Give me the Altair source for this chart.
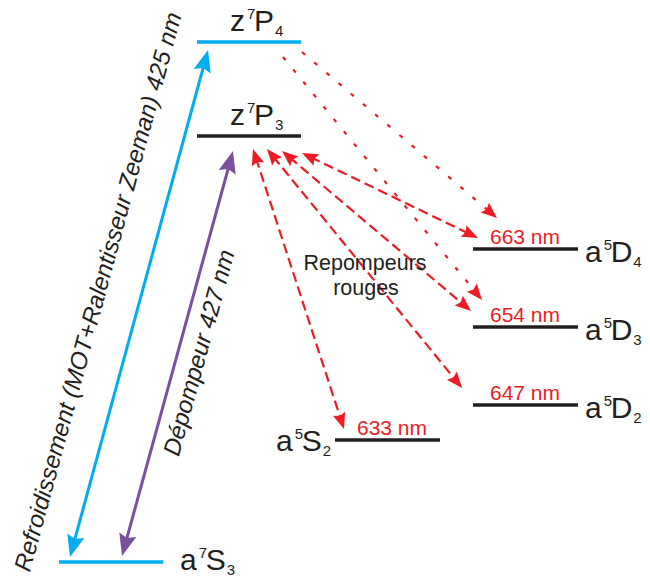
import math
import altair as alt
import pandas as pd

# ---------------- data ----------------
level_names = ["z7P4", "z7P3", "a5D4", "a5D3", "a5D2", "a5S2", "a7S3"]
level_y = [42, 136, 249, 327, 405, 440, 562]
level_x1 = [197, 197, 473, 473, 473, 335, 59]
level_x2 = [301, 301, 578, 578, 578, 440, 163]
level_group = ["cool", "ex", "ex", "ex", "ex", "ex", "cool"]

label_letter1 = ["z", "z", "a", "a", "a", "a", "a"]
label_sup = ["7", "7", "5", "5", "5", "5", "7"]
label_letter2 = ["P", "P", "D", "D", "D", "S", "S"]
label_sub = ["4", "3", "4", "3", "2", "2", "3"]
label_x = [230, 230, 585, 585, 585, 276, 180]
label_y = [31, 125, 262, 340, 418, 451, 570]

wl_text = ["663 nm", "654 nm", "647 nm", "633 nm"]
wl_x = [490, 490, 490, 357]
wl_y = [244, 322, 400, 435]

arrow_x1 = [70, 122, 253, 267, 282, 302, 283, 302]
arrow_y1 = [557, 556, 149, 149, 151, 153, 57, 52]
arrow_x2 = [208, 233, 344, 462, 471, 478, 482, 497]
arrow_y2 = [50, 151, 429, 388, 311, 238, 300, 218]
arrow_style = ["cyan", "purple", "dash", "dash", "dash", "dash", "dot", "dot"]
arrow_heads = [2, 2, 2, 2, 2, 2, 1, 1]

rot_text = ["Refroidissement (MOT+Ralentisseur Zeeman) 425 nm", "Dépompeur 427 nm"]
rot_x = [99, 200]
rot_y = [292, 353]
rot_arrow = [0, 1]

note_text = ["Repompeurs", "rouges"]
note_x = [365, 366]
note_y = [270, 295]

# ---------------- styles ----------------
BLACK = "#231f20"
CYAN = "#00aeef"
PURPLE = "#7b519f"
RED = "#ed1c24"
FONT = "Liberation Sans"
group_color = {"cool": CYAN, "ex": BLACK}
STY = {
    "cyan": dict(color=CYAN, width=3.0, dash=None, s=11.0),
    "purple": dict(color=PURPLE, width=3.0, dash=None, s=11.0),
    "dash": dict(color=RED, width=2.2, dash=[10, 5], s=8.0),
    "dot": dict(color=RED, width=2.2, dash=[4, 12], s=8.0),
}
HEAD = "M0,0 L-0.8,2 L0,1.7 L0.8,2 Z"

X = dict(scale=alt.Scale(domain=[8, 642], nice=False, zero=False), axis=None)
Y = dict(scale=alt.Scale(domain=[8, 576], nice=False, zero=False, reverse=True), axis=None)

layers = []

# levels
lv = pd.DataFrame({"name": level_names, "x": level_x1, "x2": level_x2, "y": level_y,
                   "c": [group_color[g] for g in level_group]})
layers.append(alt.Chart(lv).mark_rule(strokeWidth=3.5, strokeCap="butt").encode(
    x=alt.X("x:Q", **X), x2="x2:Q", y=alt.Y("y:Q", **Y), color=alt.Color("c:N", scale=None)))

# arrows
shaft_rows, head_rows = [], []
for x1, y1, x2, y2, st, nh in zip(arrow_x1, arrow_y1, arrow_x2, arrow_y2, arrow_style, arrow_heads):
    dx, dy = x2 - x1, y2 - y1
    L = math.hypot(dx, dy)
    ux, uy = dx / L, dy / L
    sh = 1.2 * STY[st]["s"]
    ang2 = math.degrees(math.atan2(dx, -dy)) % 360
    head_rows.append(dict(x=x2, y=y2, ang=ang2, st=st))
    ex2, ey2 = x2 - ux * sh, y2 - uy * sh
    if nh == 2:
        ang1 = math.degrees(math.atan2(-dx, dy)) % 360
        head_rows.append(dict(x=x1, y=y1, ang=ang1, st=st))
        sx1, sy1 = x1 + ux * sh, y1 + uy * sh
    else:
        sx1, sy1 = x1, y1
    shaft_rows.append(dict(x=sx1, y=sy1, x2=ex2, y2=ey2, st=st))
shafts = pd.DataFrame(shaft_rows)
heads = pd.DataFrame(head_rows)

for st, p in STY.items():
    kw = dict(strokeWidth=p["width"], color=p["color"], strokeCap="butt")
    if p["dash"]:
        kw["strokeDash"] = p["dash"]
    layers.append(alt.Chart(shafts[shafts.st == st]).mark_rule(**kw).encode(
        x=alt.X("x:Q", **X), y=alt.Y("y:Q", **Y), x2="x2:Q", y2="y2:Q"))
    layers.append(alt.Chart(heads[heads.st == st]).mark_point(
        shape=HEAD, filled=True, opacity=1, strokeWidth=0, color=p["color"],
        size=(2 * p["s"]) ** 2).encode(
        x=alt.X("x:Q", **X), y=alt.Y("y:Q", **Y), angle=alt.Angle("ang:Q", scale=None)))

# level labels
BIG, SMALL = 30, 15
W = {"a": 0.556, "z": 0.5, "D": 0.722, "P": 0.667, "S": 0.667}
big, small = [], []
for l1, sp, l2, sb, x, y in zip(label_letter1, label_sup, label_letter2, label_sub, label_x, label_y):
    w1, w2 = W[l1] * BIG, W[l2] * BIG
    big.append(dict(t=l1, x=x, y=y))
    small.append(dict(t=sp, x=x + w1 + 2, y=y - 12))
    xl2 = x + w1 + 9
    big.append(dict(t=l2, x=xl2, y=y))
    small.append(dict(t=sb, x=xl2 + w2 + 1, y=y + 5))
for rows, fs in ((big, BIG), (small, SMALL)):
    layers.append(alt.Chart(pd.DataFrame(rows)).mark_text(
        align="left", baseline="alphabetic", font=FONT, fontSize=fs, color=BLACK).encode(
        x=alt.X("x:Q", **X), y=alt.Y("y:Q", **Y), text="t:N"))

# wavelengths
wl = pd.DataFrame({"t": wl_text, "x": wl_x, "y": wl_y})
layers.append(alt.Chart(wl).mark_text(
    align="left", baseline="alphabetic", font=FONT, fontSize=21, color=RED).encode(
    x=alt.X("x:Q", **X), y=alt.Y("y:Q", **Y), text="t:N"))

# rotated transition labels
rot_ang = []
for i in rot_arrow:
    dx = arrow_x2[i] - arrow_x1[i]
    dy = arrow_y2[i] - arrow_y1[i]
    rot_ang.append(math.degrees(math.atan2(dy, dx)) % 360)
rt = pd.DataFrame({"t": rot_text, "x": rot_x, "y": rot_y, "ang": rot_ang})
layers.append(alt.Chart(rt).mark_text(
    align="center", baseline="middle", font=FONT, fontSize=24, fontStyle="italic", color=BLACK).encode(
    x=alt.X("x:Q", **X), y=alt.Y("y:Q", **Y), text="t:N", angle=alt.Angle("ang:Q", scale=None)))

# note
nt = pd.DataFrame({"t": note_text, "x": note_x, "y": note_y})
layers.append(alt.Chart(nt).mark_text(
    align="center", baseline="alphabetic", font=FONT, fontSize=21.5, color=BLACK).encode(
    x=alt.X("x:Q", **X), y=alt.Y("y:Q", **Y), text="t:N"))

chart = alt.layer(*layers).properties(
    width=634, height=568, padding=0,
    autosize=alt.AutoSizeParams(type="none"), background="white",
).configure_view(strokeWidth=0)

chart.save("out.html", embed_options={"renderer": "svg", "actions": False})
